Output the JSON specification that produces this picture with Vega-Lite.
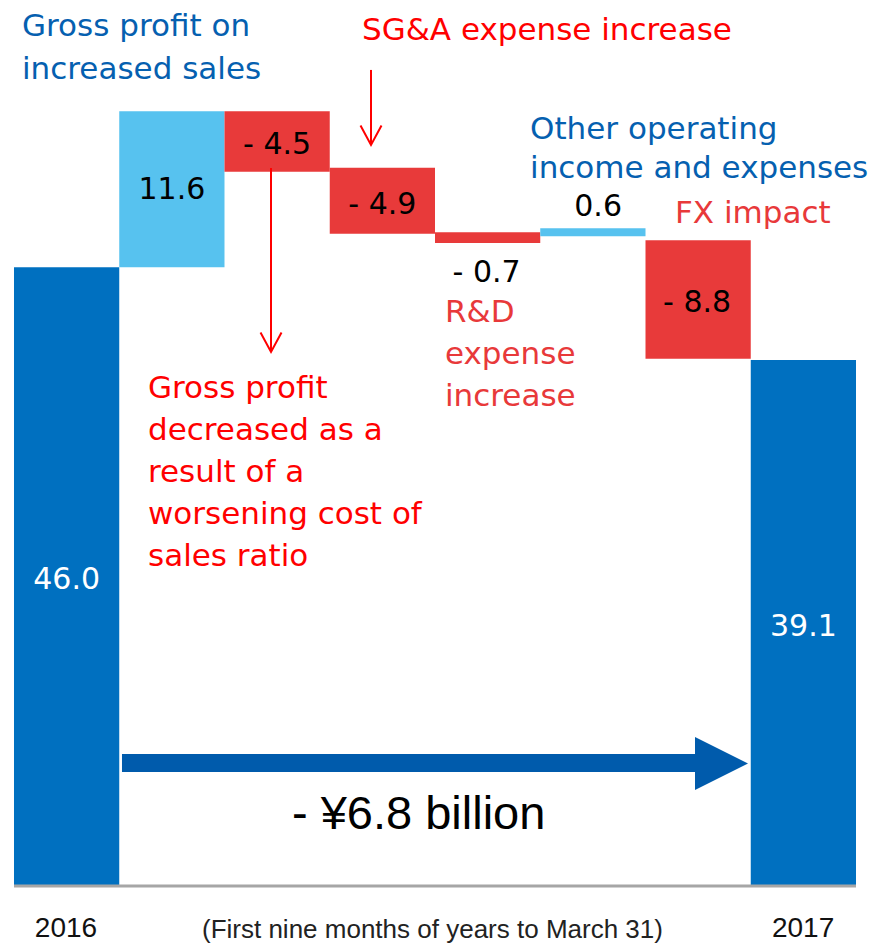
{
  "$schema": "https://vega.github.io/schema/vega-lite/v6.json",
  "width": 876,
  "height": 951,
  "autosize": {"type": "fit", "contains": "padding"},
  "padding": 0,
  "background": "white",
  "config": {"view": {"stroke": null}},
  "layer": [
    {
      "data": {"values": [
        {"step": "2016", "x0": 0, "x1": 1, "start": 0, "end": 46.0, "kind": "total"},
        {"step": "Gross profit on increased sales", "x0": 1, "x1": 2, "start": 46.0, "end": 57.6, "kind": "increase"},
        {"step": "Cost of sales ratio", "x0": 2, "x1": 3, "start": 57.6, "end": 53.1, "kind": "decrease"},
        {"step": "SG&A expense increase", "x0": 3, "x1": 4, "start": 53.4, "end": 48.5, "kind": "decrease"},
        {"step": "R&D expense increase", "x0": 4, "x1": 5, "start": 48.6, "end": 47.8, "kind": "decrease"},
        {"step": "Other operating income and expenses", "x0": 5, "x1": 6, "start": 48.3, "end": 48.9, "kind": "increase"},
        {"step": "FX impact", "x0": 6, "x1": 7, "start": 48.0, "end": 39.2, "kind": "decrease"},
        {"step": "2017", "x0": 7, "x1": 8, "start": 0, "end": 39.1, "kind": "total"}
      ]},
      "mark": {"type": "rect"},
      "encoding": {
        "x": {"field": "x0", "type": "quantitative", "scale": {"domain": [-0.133, 8.19], "nice": false, "zero": false}, "axis": null},
        "x2": {"field": "x1"},
        "y": {"field": "start", "type": "quantitative", "scale": {"domain": [-4.833, 65.87], "nice": false, "zero": false}, "axis": null},
        "y2": {"field": "end"},
        "color": {"field": "kind", "type": "nominal", "scale": {"domain": ["total", "increase", "decrease"], "range": ["#0070C0", "#57C2EF", "#E83A3A"]}, "legend": null}
      }
    },
    {
      "data": {"values": [{"a": 0, "b": 8, "v": 0}]},
      "mark": {"type": "rule", "color": "#A6A6A6", "strokeWidth": 3},
      "encoding": {
        "x": {"field": "a", "type": "quantitative", "scale": {"domain": [-0.133, 8.19], "nice": false, "zero": false}, "axis": null},
        "x2": {"field": "b"},
        "y": {"field": "v", "type": "quantitative", "scale": {"domain": [-4.833, 65.87], "nice": false, "zero": false}, "axis": null}
      }
    },
    {
      "data": {"values": [{"a": 1.026, "b": 6.489, "top": 9.814, "bottom": 8.476}]},
      "mark": {"type": "rect", "color": "#005BAC"},
      "encoding": {
        "x": {"field": "a", "type": "quantitative", "scale": {"domain": [-0.133, 8.19], "nice": false, "zero": false}, "axis": null},
        "x2": {"field": "b"},
        "y": {"field": "top", "type": "quantitative", "scale": {"domain": [-4.833, 65.87], "nice": false, "zero": false}, "axis": null},
        "y2": {"field": "bottom"}
      }
    },
    {
      "data": {"values": [{"a": 6.722, "v": 9.108}]},
      "mark": {"type": "point", "shape": "M-1,-1L1,0L-1,1Z", "filled": true, "color": "#005BAC", "opacity": 1, "size": 2809, "strokeWidth": 0},
      "encoding": {
        "x": {"field": "a", "type": "quantitative", "scale": {"domain": [-0.133, 8.19], "nice": false, "zero": false}, "axis": null},
        "y": {"field": "v", "type": "quantitative", "scale": {"domain": [-4.833, 65.87], "nice": false, "zero": false}, "axis": null}
      }
    },
    {
      "data": {"values": [
        {"a": 3.392, "from": 60.67, "to": 55.09},
        {"a": 2.442, "from": 53.38, "to": 39.70}
      ]},
      "mark": {"type": "rule", "color": "#FF0000", "strokeWidth": 2},
      "encoding": {
        "x": {"field": "a", "type": "quantitative", "scale": {"domain": [-0.133, 8.19], "nice": false, "zero": false}, "axis": null},
        "y": {"field": "from", "type": "quantitative", "scale": {"domain": [-4.833, 65.87], "nice": false, "zero": false}, "axis": null},
        "y2": {"field": "to"}
      }
    },
    {
      "data": {"values": [
        {"a": 3.392, "v": 55.09},
        {"a": 2.442, "v": 39.70}
      ]},
      "mark": {"type": "point", "shape": "M-1,-1.85L0,0L1,-1.85", "filled": false, "stroke": "#FF0000", "strokeWidth": 2, "opacity": 1, "size": 441},
      "encoding": {
        "x": {"field": "a", "type": "quantitative", "scale": {"domain": [-0.133, 8.19], "nice": false, "zero": false}, "axis": null},
        "y": {"field": "v", "type": "quantitative", "scale": {"domain": [-4.833, 65.87], "nice": false, "zero": false}, "axis": null}
      }
    },
    {
      "data": {"values": [
        {"label": "46.0", "kind": "total", "a": 0.5, "v": 22.75},
        {"label": "11.6", "kind": "increase", "a": 1.5, "v": 51.75},
        {"label": "- 4.5", "kind": "decrease", "a": 2.5, "v": 55.09},
        {"label": "- 4.9", "kind": "decrease", "a": 3.5, "v": 50.63},
        {"label": "- 0.7", "kind": "decrease", "a": 4.49, "v": 45.6},
        {"label": "0.6", "kind": "increase", "a": 5.55, "v": 50.5},
        {"label": "- 8.8", "kind": "decrease", "a": 6.49, "v": 43.35},
        {"label": "39.1", "kind": "total", "a": 7.5, "v": 19.26}
      ]},
      "mark": {"type": "text", "font": "DejaVu Sans", "fontSize": 30, "align": "center", "baseline": "middle"},
      "encoding": {
        "x": {"field": "a", "type": "quantitative", "scale": {"domain": [-0.133, 8.19], "nice": false, "zero": false}, "axis": null},
        "y": {"field": "v", "type": "quantitative", "scale": {"domain": [-4.833, 65.87], "nice": false, "zero": false}, "axis": null},
        "text": {"field": "label"},
        "fill": {"condition": {"test": "datum.kind === 'total'", "value": "#FFFFFF"}, "value": "#000000"}
      }
    },
    {
      "data": {"values": [{"label": "Gross profit on\nincreased sales", "a": 0.076, "v": 63.2}]},
      "mark": {"type": "text", "font": "DejaVu Sans", "fontSize": 31, "align": "left", "baseline": "alphabetic", "lineBreak": "\n", "lineHeight": 43, "color": "#0560B0"},
      "encoding": {
        "x": {"field": "a", "type": "quantitative", "scale": {"domain": [-0.133, 8.19], "nice": false, "zero": false}, "axis": null},
        "y": {"field": "v", "type": "quantitative", "scale": {"domain": [-4.833, 65.87], "nice": false, "zero": false}, "axis": null},
        "text": {"field": "label"}
      }
    },
    {
      "data": {"values": [{"label": "Other operating\nincome and expenses", "a": 4.903, "v": 55.54}]},
      "mark": {"type": "text", "font": "DejaVu Sans", "fontSize": 31, "align": "left", "baseline": "alphabetic", "lineBreak": "\n", "lineHeight": 39, "color": "#0560B0"},
      "encoding": {
        "x": {"field": "a", "type": "quantitative", "scale": {"domain": [-0.133, 8.19], "nice": false, "zero": false}, "axis": null},
        "y": {"field": "v", "type": "quantitative", "scale": {"domain": [-4.833, 65.87], "nice": false, "zero": false}, "axis": null},
        "text": {"field": "label"}
      }
    },
    {
      "data": {"values": [
        {"label": "SG&A expense increase", "a": 3.306, "v": 62.9},
        {"label": "Gross profit\ndecreased as a\nresult of a\nworsening cost of\nsales ratio", "a": 1.273, "v": 36.28}
      ]},
      "mark": {"type": "text", "font": "DejaVu Sans", "fontSize": 31, "align": "left", "baseline": "alphabetic", "lineBreak": "\n", "lineHeight": 42, "color": "#FF0000"},
      "encoding": {
        "x": {"field": "a", "type": "quantitative", "scale": {"domain": [-0.133, 8.19], "nice": false, "zero": false}, "axis": null},
        "y": {"field": "v", "type": "quantitative", "scale": {"domain": [-4.833, 65.87], "nice": false, "zero": false}, "axis": null},
        "text": {"field": "label"}
      }
    },
    {
      "data": {"values": [
        {"label": "R&D\nexpense\nincrease", "a": 4.095, "v": 41.93},
        {"label": "FX impact", "a": 6.28, "v": 49.29}
      ]},
      "mark": {"type": "text", "font": "DejaVu Sans", "fontSize": 31, "align": "left", "baseline": "alphabetic", "lineBreak": "\n", "lineHeight": 42, "color": "#E8393A"},
      "encoding": {
        "x": {"field": "a", "type": "quantitative", "scale": {"domain": [-0.133, 8.19], "nice": false, "zero": false}, "axis": null},
        "y": {"field": "v", "type": "quantitative", "scale": {"domain": [-4.833, 65.87], "nice": false, "zero": false}, "axis": null},
        "text": {"field": "label"}
      }
    },
    {
      "data": {"values": [{"label": "- ¥6.8 billion", "a": 2.641, "v": 4.238}]},
      "mark": {"type": "text", "font": "Liberation Sans", "fontSize": 47, "align": "left", "baseline": "alphabetic", "color": "#000000"},
      "encoding": {
        "x": {"field": "a", "type": "quantitative", "scale": {"domain": [-0.133, 8.19], "nice": false, "zero": false}, "axis": null},
        "y": {"field": "v", "type": "quantitative", "scale": {"domain": [-4.833, 65.87], "nice": false, "zero": false}, "axis": null},
        "text": {"field": "label"}
      }
    },
    {
      "data": {"values": [
        {"label": "2016", "a": 0.494, "v": -3.792},
        {"label": "2017", "a": 7.497, "v": -3.792}
      ]},
      "mark": {"type": "text", "font": "Liberation Sans", "fontSize": 28, "align": "center", "baseline": "alphabetic", "color": "#111111"},
      "encoding": {
        "x": {"field": "a", "type": "quantitative", "scale": {"domain": [-0.133, 8.19], "nice": false, "zero": false}, "axis": null},
        "y": {"field": "v", "type": "quantitative", "scale": {"domain": [-4.833, 65.87], "nice": false, "zero": false}, "axis": null},
        "text": {"field": "label"}
      }
    },
    {
      "data": {"values": [{"label": "(First nine months of years to March 31)", "a": 1.786, "v": -3.866}]},
      "mark": {"type": "text", "font": "Liberation Sans", "fontSize": 26, "align": "left", "baseline": "alphabetic", "color": "#222222"},
      "encoding": {
        "x": {"field": "a", "type": "quantitative", "scale": {"domain": [-0.133, 8.19], "nice": false, "zero": false}, "axis": null},
        "y": {"field": "v", "type": "quantitative", "scale": {"domain": [-4.833, 65.87], "nice": false, "zero": false}, "axis": null},
        "text": {"field": "label"}
      }
    }
  ]
}
